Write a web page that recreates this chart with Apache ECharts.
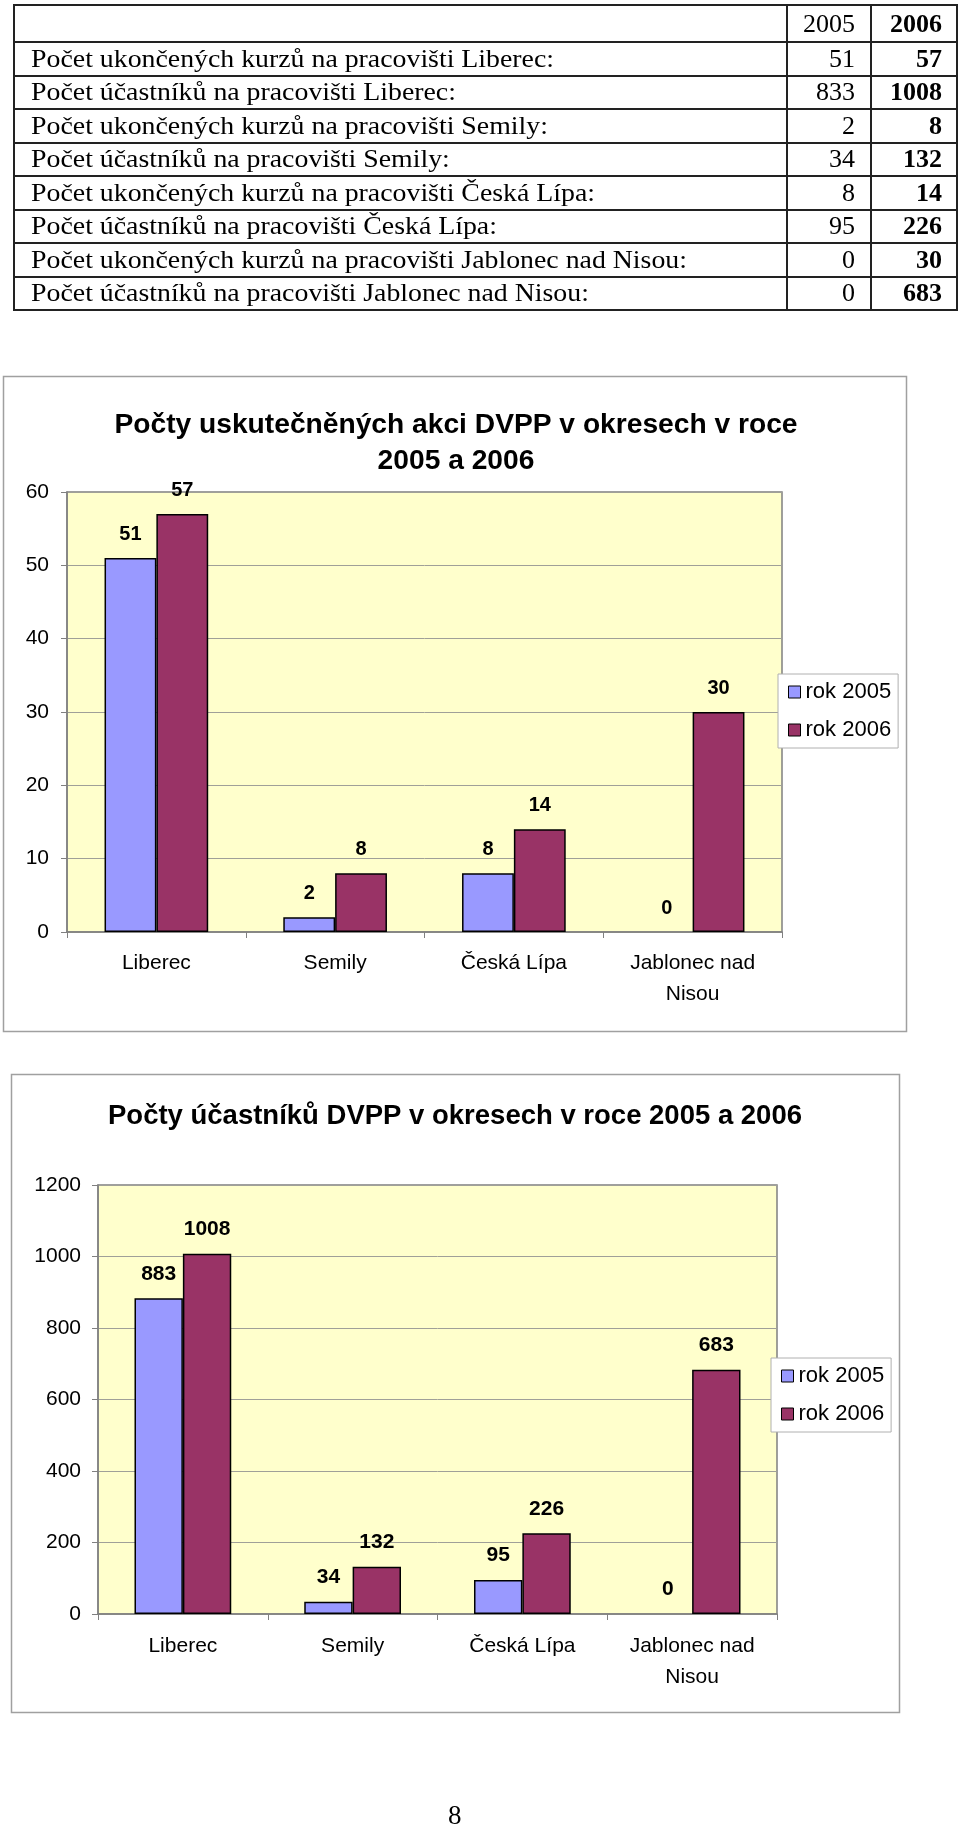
<!DOCTYPE html>
<html>
<head>
<meta charset="utf-8">
<script src="https://cdn.jsdelivr.net/npm/echarts@6/dist/echarts.min.js"></script>
<style>
  html, body { margin: 0; padding: 0; background: #fff; }
  #page { position: relative; width: 960px; height: 1827px; }
  #chart { position: absolute; left: 0; top: 0; width: 960px; height: 1827px; }
  #tbl { position: absolute; left: 13px; top: 4px; width: 943px; border-collapse: collapse; table-layout: fixed;
         font-family: "Liberation Serif", "Times New Roman", serif; font-size: 26px; color: #000; z-index: 2; }
  #tbl td { border: 2px solid #222; padding: 0; white-space: nowrap; overflow: visible; box-sizing: border-box; }
  #tbl td.l span { display: inline-block; transform: scaleX(1.07); transform-origin: left center; padding-left: 15px; }
  #tbl td.n { text-align: right; }
  #tbl td.n2 { padding-right: 15px; }
  #tbl td.n3 { padding-right: 14px; }
  #tbl td.b { font-weight: bold; }
  #tbl tr { height: 33.5px; }
  #tbl tr.h { height: 37px; }
</style>
</head>
<body>
<div id="page">
  <table id="tbl"></table>
  <div id="chart"></div>
</div>
<script>
// ---- data ----
const tableLabels = [
  "Počet ukončených kurzů na pracovišti Liberec:",
  "Počet účastníků na pracovišti Liberec:",
  "Počet ukončených kurzů na pracovišti Semily:",
  "Počet účastníků na pracovišti Semily:",
  "Počet ukončených kurzů na pracovišti Česká Lípa:",
  "Počet účastníků na pracovišti Česká Lípa:",
  "Počet ukončených kurzů na pracovišti Jablonec nad Nisou:",
  "Počet účastníků na pracovišti Jablonec nad Nisou:"
];
const tableYears = ["2005", "2006"];
const table2005 = [51, 833, 2, 34, 8, 95, 0, 0];
const table2006 = [57, 1008, 8, 132, 14, 226, 30, 683];

const categories = ["Liberec", "Semily", "Česká Lípa", "Jablonec nad\nNisou"];
const seriesNames = ["rok 2005", "rok 2006"];
const courses2005 = [51, 2, 8, 0];
const courses2006 = [57, 8, 14, 30];
const participants2005 = [883, 34, 95, 0];
const participants2006 = [1008, 132, 226, 683];

const title1 = "Počty uskutečněných akci DVPP v okresech v roce\n2005 a 2006";
const title2 = "Počty účastníků DVPP v okresech v roce 2005 a 2006";
const pageNumber = "8";

// ---- table ----
(function () {
  const t = document.getElementById('tbl');
  let html = '<colgroup><col style="width:773px"><col style="width:84px"><col style="width:86px"></colgroup>';
  html += '<tr class="h"><td></td><td class="n n2">' + tableYears[0] +
          '</td><td class="n n3 b">' + tableYears[1] + '</td></tr>';
  tableLabels.forEach((l, i) => {
    html += '<tr><td class="l"><span>' + l + '</span></td><td class="n n2">' + table2005[i] +
            '</td><td class="n n3 b">' + table2006[i] + '</td></tr>';
  });
  t.innerHTML = html;
})();

// ---- chart ----
const FONT = '"Liberation Sans", Arial, sans-serif';
const C05 = '#9999FF', C06 = '#993366';

const chart = echarts.init(document.getElementById('chart'), null, { renderer: 'canvas' });

function xAxis(gi, lh, margin) {
  return {
    type: 'category', gridIndex: gi, data: categories,
    axisLine: { lineStyle: { color: '#808080', width: 1.5 } },
    axisTick: { show: true, length: 6, alignWithLabel: false, lineStyle: { color: '#808080' } },
    axisLabel: { color: '#000', fontFamily: FONT, fontSize: 21, lineHeight: lh, margin: margin, interval: 0 },
    splitLine: { show: false }
  };
}
function yAxis(gi, max, interval, margin) {
  return {
    type: 'value', gridIndex: gi, min: 0, max: max, interval: interval,
    axisLine: { show: true, lineStyle: { color: '#808080', width: 1.5 } },
    axisTick: { show: true, length: 6, lineStyle: { color: '#808080' } },
    axisLabel: { color: '#000', fontFamily: FONT, fontSize: 21, margin: margin,
                 formatter: function (v) { return String(v); } },
    splitLine: { show: true, lineStyle: { color: '#a0a098', width: 1 } }
  };
}
function bar(name, data, color, xi, gap, labelSize) {
  return {
    name: name, type: 'bar', xAxisIndex: xi, yAxisIndex: xi,
    data: data.map(function (v) { return v === 0 ? { value: v, itemStyle: { borderWidth: 0 } } : v; }),
    barGap: '0%', barCategoryGap: gap,
    itemStyle: { color: color, borderColor: '#000', borderWidth: 1.5 },
    label: { show: true, position: 'top', distance: 14, color: '#000',
             fontFamily: FONT, fontWeight: 'bold', fontSize: labelSize },
    emphasis: { disabled: true }
  };
}
function legend(left, top, names) {
  return {
    orient: 'vertical', left: left, top: top, data: names,
    icon: 'rect', itemWidth: 12, itemHeight: 12, itemGap: 16,
    padding: [7, 7, 7, 10],
    backgroundColor: '#fff', borderColor: '#b0b0b0', borderWidth: 1,
    textStyle: { color: '#000', fontFamily: FONT, fontSize: 22 },
    itemStyle: { borderColor: '#000', borderWidth: 1 },
    formatter: function (n) { return n.trim(); }
  };
}

chart.setOption({
  animation: false,
  title: [
    { text: title1, left: 451, textAlign: 'center', top: 402,
      textStyle: { fontFamily: FONT, fontWeight: 'bold', fontSize: 28.2, lineHeight: 36, color: '#000' } },
    { text: title2, left: 450, textAlign: 'center', top: 1093,
      textStyle: { fontFamily: FONT, fontWeight: 'bold', fontSize: 27.5, lineHeight: 36, color: '#000' } }
  ],
  grid: [
    { left: 67, top: 492, width: 715, height: 440, show: true, backgroundColor: '#FFFFCC',
      borderColor: '#808080', borderWidth: 1.5, containLabel: false },
    { left: 98, top: 1185, width: 679, height: 429, show: true, backgroundColor: '#FFFFCC',
      borderColor: '#808080', borderWidth: 1.5, containLabel: false }
  ],
  xAxis: [ xAxis(0, 31, 16), xAxis(1, 31, 17) ],
  yAxis: [ yAxis(0, 60, 10, 18), yAxis(1, 1200, 200, 17) ],
  legend: [
    legend(778, 674, [seriesNames[0], seriesNames[1]]),
    legend(771, 1358, [seriesNames[0] + ' ', seriesNames[1] + ' '])
  ],
  series: [
    bar(seriesNames[0], courses2005, C05, 0, '42%', 20),
    bar(seriesNames[1], courses2006, C06, 0, '42%', 20),
    bar(seriesNames[0] + ' ', participants2005, C05, 1, '43%', 21),
    bar(seriesNames[1] + ' ', participants2006, C06, 1, '43%', 21)
  ],
  graphic: [
    { type: 'rect', shape: { x: 3.5, y: 376.5, width: 903, height: 655 }, z: -10,
      style: { fill: '#fff', stroke: '#a0a0a0', lineWidth: 1.5 } },
    { type: 'rect', shape: { x: 11.5, y: 1074.5, width: 888, height: 638 }, z: -10,
      style: { fill: '#fff', stroke: '#a0a0a0', lineWidth: 1.5 } },
    { type: 'text', left: 448, top: 1803, z: 10,
      style: { text: pageNumber, fill: '#000', font: '27px "Liberation Serif", "Times New Roman", serif' } }
  ]
});
</script>
</body>
</html>
